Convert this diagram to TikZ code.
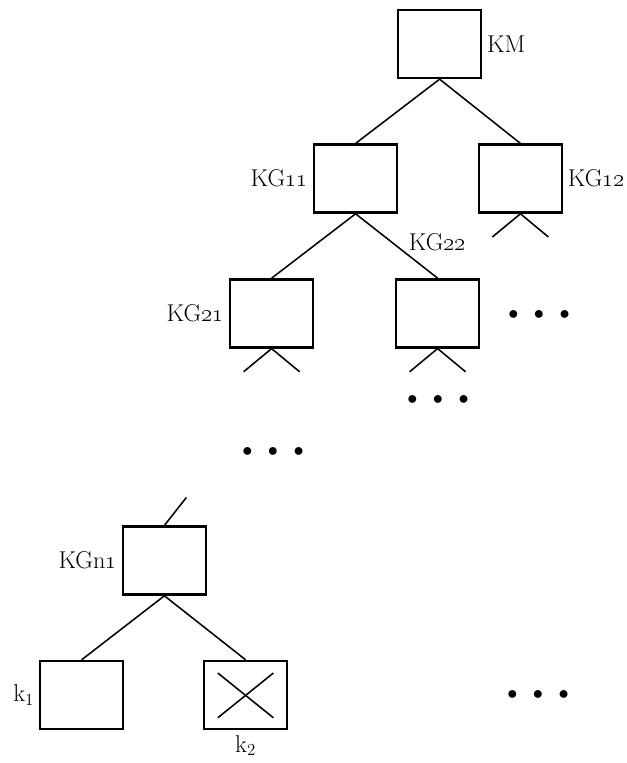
\documentclass[tikz,border=0pt]{standalone}
\usetikzlibrary{positioning, calc}

\begin{document}
\begin{tikzpicture}[
    font=\fontsize{17.28}{20}\selectfont,
    box/.style={rectangle, draw, line width=1.7pt,
                minimum width=2.07cm, minimum height=1.7cm},
    link/.style={line width=1.1pt},
    dots/.style={inner sep=0pt, font=\fontsize{15}{18}\selectfont}
  ]

  \useasboundingbox (0,0) rectangle (15.675,19.075);

  %% ---- Upper levels ----
  \node[box, label={right:KM}] (km) at (10.99,17.975) {};
  \node[box, label={left:KG\oldstylenums{11}}]  (kg11) at (8.89,14.61)  {};
  \node[box, label={right:KG\oldstylenums{12}}] (kg12) at (13.01,14.61) {};
  \node[box, label={left:KG\oldstylenums{21}}]  (kg21) at (6.79,11.24)  {};
  \node[box, label={[label distance=0.55cm]above:KG\oldstylenums{22}}]
        (kg22) at (10.94,11.24) {};

  %% ---- Lowest level ----
  \node[box, label={left:KGn\oldstylenums{1}}] (kgn1) at (4.11,5.06) {};
  \node[box, label={left:k$_1$}]  (k1) at (2.04,1.70) {};
  \node[box, label={below:k$_2$}] (k2) at (6.14,1.70) {};

  %% ---- Dots ----
  \node[dots] (dotsR) at (13.475,11.2) {$\bullet$\hspace{11pt}$\bullet$\hspace{11pt}$\bullet$};
  \node[dots] (dotsB) at (10.95,9.075) {$\bullet$\hspace{11pt}$\bullet$\hspace{11pt}$\bullet$};
  \node[dots] (dotsM) at (6.825,7.775) {$\bullet$\hspace{11pt}$\bullet$\hspace{11pt}$\bullet$};
  \node[dots] (dotsK) at (13.45,1.7)   {$\bullet$\hspace{11pt}$\bullet$\hspace{11pt}$\bullet$};

  %% ---- Open branch ends ----
  \coordinate (kg12l) at ($(kg12.south)+(-0.7,-0.58)$);
  \coordinate (kg12r) at ($(kg12.south)+(0.7,-0.58)$);
  \coordinate (kg21l) at ($(kg21.south)+(-0.7,-0.58)$);
  \coordinate (kg21r) at ($(kg21.south)+(0.7,-0.58)$);
  \coordinate (kg22l) at ($(kg22.south)+(-0.7,-0.58)$);
  \coordinate (kg22r) at ($(kg22.south)+(0.7,-0.58)$);
  \coordinate (kgn1up) at ($(kgn1.north)+(0.55,0.7)$);

  %% ---- Branches ----
  \draw[link] (km.south)   -- (kg11.north);
  \draw[link] (km.south)   -- (kg12.north);
  \draw[link] (kg11.south) -- (kg21.north);
  \draw[link] (kg11.south) -- (kg22.north);
  \draw[link] (kgn1.south) -- (k1.north);
  \draw[link] (kgn1.south) -- (k2.north);

  \draw[link] (kg12l) -- (kg12.south) -- (kg12r);
  \draw[link] (kg21l) -- (kg21.south) -- (kg21r);
  \draw[link] (kg22l) -- (kg22.south) -- (kg22r);
  \draw[link] (kgn1.north) -- (kgn1up);

  %% ---- Crossed-out key ----
  \draw[link] ($(k2.south west)+(0.37,0.31)$) -- ($(k2.north east)+(-0.37,-0.33)$);
  \draw[link] ($(k2.north west)+(0.37,-0.33)$) -- ($(k2.south east)+(-0.37,0.31)$);

\end{tikzpicture}
\end{document}
